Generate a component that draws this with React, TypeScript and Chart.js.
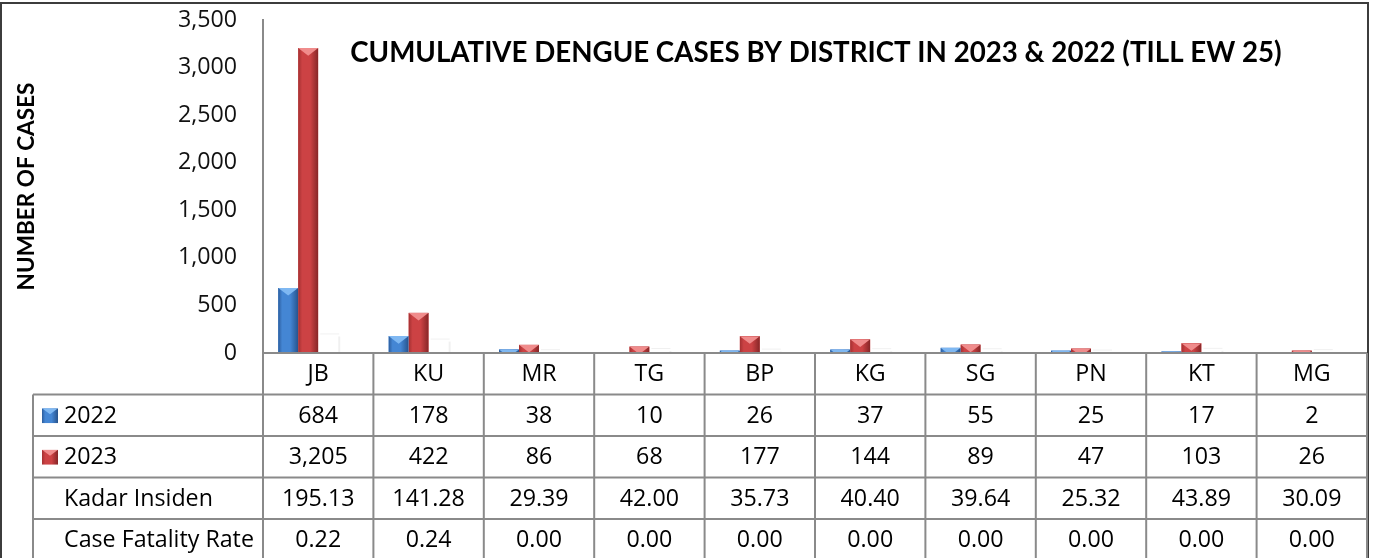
import React, { useEffect, useRef } from 'react';
import { Chart, registerables } from 'chart.js';
Chart.register(...registerables);

const TITLE = 'CUMULATIVE DENGUE CASES BY DISTRICT IN 2023 & 2022 (TILL EW 25)';
const Y_TITLE = 'NUMBER OF CASES';
const categories = ['JB', 'KU', 'MR', 'TG', 'BP', 'KG', 'SG', 'PN', 'KT', 'MG'];
const seriesNames = ['2022', '2023', 'Kadar Insiden', 'Case Fatality Rate'];
const cases2022 = [684, 178, 38, 10, 26, 37, 55, 25, 17, 2];
const cases2023 = [3205, 422, 86, 68, 177, 144, 89, 47, 103, 26];
const kadarInsiden = [195.13, 141.28, 29.39, 42.0, 35.73, 40.4, 39.64, 25.32, 43.89, 30.09];
const caseFatalityRate = [0.22, 0.24, 0.0, 0.0, 0.0, 0.0, 0.0, 0.0, 0.0, 0.0];
const yTicksMax = 3500;
const yTicksStep = 500;

const FONT = '"Open Sans", Lato, sans-serif';
const BOLD_FONT = 'Lato, "Open Sans", sans-serif';
const GRID = '#8a8a8a';

const palettes = [
  { edgeL: '#2b5c9c', mid: '#4486d4', edgeR: '#27538c', top: '#7fb8f2' },
  { edgeL: '#a33031', mid: '#cc4244', edgeR: '#862627', top: '#f08c8c' },
];

function drawFancyBar(ctx: CanvasRenderingContext2D, left: number, top: number, width: number, bottom: number, p: any) {
  const h = bottom - top;
  if (h <= 0) return;
  const g = ctx.createLinearGradient(left, 0, left + width, 0);
  g.addColorStop(0, p.edgeL);
  g.addColorStop(0.2, p.mid);
  g.addColorStop(0.6, p.mid);
  g.addColorStop(1, p.edgeR);
  ctx.save();
  ctx.beginPath();
  ctx.rect(left, top, width, h);
  ctx.clip();
  ctx.fillStyle = g;
  ctx.fillRect(left, top, width, h);
  const depth = width * 0.38;
  ctx.beginPath();
  ctx.moveTo(left, top);
  ctx.lineTo(left + width, top);
  ctx.lineTo(left + width / 2, top + depth);
  ctx.closePath();
  ctx.fillStyle = p.top;
  ctx.fill();
  ctx.restore();
}

export default function App() {
  const ref = useRef<HTMLCanvasElement>(null);
  useEffect(() => {
    document.body.style.margin = '0';
    const canvas = ref.current!;
    const m = canvas.getContext('2d')!;
    const fit = (text: string, weight: string, family: string, target: number) => {
      m.font = `${weight} 100px ${family}`;
      return (100 * target) / m.measureText(text).width;
    };
    const titleSize = fit(TITLE, 'bold', BOLD_FONT, 932);
    const yTitleSize = fit(Y_TITLE, 'bold', BOLD_FONT, 208);
    const tableFont = fit('Case Fatality Rate', 'normal', FONT, 190);

    const tablePlugin = {
      id: 'tablePlugin',
      afterDatasetsDraw(chart: any) {
        const ctx = chart.ctx as CanvasRenderingContext2D;
        [0, 1].forEach((di) => {
          const meta = chart.getDatasetMeta(di);
          meta.data.forEach((el: any) => {
            const { x, y, base, width } = el.getProps(['x', 'y', 'base', 'width'], true);
            drawFancyBar(ctx, x - width / 2, Math.min(y, base), width, Math.max(y, base), palettes[di]);
          });
        });
        const meta2 = chart.getDatasetMeta(2);
        ctx.save();
        meta2.data.forEach((el: any) => {
          const { x, y, base, width } = el.getProps(['x', 'y', 'base', 'width'], true);
          const l = x - width / 2;
          ctx.fillStyle = 'rgba(0,0,0,0.06)';
          ctx.fillRect(l + width, y + 2, 2, base - y - 2);
          ctx.fillRect(l + 2, y - 1, width - 1, 1);
        });
        ctx.restore();
      },
      afterDraw(chart: any) {
        const ctx = chart.ctx as CanvasRenderingContext2D;
        const area = chart.chartArea;
        const xs = chart.scales.x;
        const n = categories.length;
        const colW = (area.right - area.left) / n;
        const tableTop = area.bottom;
        const rowH = 41.5;
        const labelLeft = 33;
        const bottom = 600;
        ctx.save();
        // frame
        ctx.strokeStyle = '#3c3c3c';
        ctx.lineWidth = 2;
        ctx.strokeRect(1, 3, 1367, 700);
        // grid
        ctx.strokeStyle = GRID;
        ctx.lineWidth = 2;
        ctx.beginPath();
        ctx.moveTo(area.left, tableTop);
        ctx.lineTo(area.right, tableTop);
        for (let r = 1; r <= 4; r++) {
          const y = tableTop + r * rowH;
          ctx.moveTo(labelLeft, y);
          ctx.lineTo(area.right, y);
        }
        for (let i = 0; i <= n; i++) {
          const x = area.left + i * colW;
          ctx.moveTo(x, tableTop);
          ctx.lineTo(x, bottom);
        }
        ctx.moveTo(labelLeft, tableTop + rowH);
        ctx.lineTo(labelLeft, bottom);
        ctx.stroke();
        // texts
        ctx.fillStyle = '#000';
        ctx.font = `${tableFont}px ${FONT}`;
        ctx.textBaseline = 'alphabetic';
        ctx.textAlign = 'center';
        const base = (r: number) => tableTop + r * rowH + rowH / 2 + 7.5;
        categories.forEach((c, i) => ctx.fillText(c, xs.getPixelForValue(i), base(0)));
        const rows = [
          cases2022.map((v) => v.toLocaleString('en-US')),
          cases2023.map((v) => v.toLocaleString('en-US')),
          kadarInsiden.map((v) => v.toFixed(2)),
          caseFatalityRate.map((v) => v.toFixed(2)),
        ];
        rows.forEach((vals, r) => {
          vals.forEach((v, i) => ctx.fillText(v, xs.getPixelForValue(i), base(r + 1)));
        });
        ctx.textAlign = 'left';
        seriesNames.forEach((s, r) => ctx.fillText(s, 64, base(r + 1)));
        // legend swatches
        [0, 1].forEach((di) => {
          const cy = tableTop + (di + 1) * rowH + rowH / 2;
          drawFancyBar(ctx, 42, cy - 7, 16, cy + 8, palettes[di]);
        });
        // title
        ctx.font = `bold ${titleSize}px ${BOLD_FONT}`;
        ctx.textAlign = 'center';
        ctx.fillText(TITLE, 816, 62);
        ctx.restore();
      },
    };

    const chart = new Chart(canvas, {
      type: 'bar',
      data: {
        labels: categories,
        datasets: [
          { label: seriesNames[0], data: cases2022, backgroundColor: palettes[0].mid },
          { label: seriesNames[1], data: cases2023, backgroundColor: palettes[1].mid },
          { label: seriesNames[2], data: kadarInsiden, backgroundColor: '#ffffff' },
          { label: seriesNames[3], data: caseFatalityRate, backgroundColor: '#ffffff' },
        ],
      },
      options: {
        responsive: false,
        animation: false,
        layout: { padding: { left: 0, right: 9, top: 20, bottom: 205 } },
        datasets: { bar: { categoryPercentage: 0.725, barPercentage: 1 } },
        plugins: { legend: { display: false }, tooltip: { enabled: false }, title: { display: false } },
        scales: {
          x: { display: false },
          y: {
            min: 0,
            max: yTicksMax,
            ticks: { stepSize: yTicksStep, color: '#111', font: { family: FONT, size: tableFont }, padding: 26 },
            grid: { display: false, drawTicks: false },
            border: { display: true, color: GRID, width: 2 },
            title: {
              display: true,
              text: Y_TITLE,
              color: '#000',
              font: { family: BOLD_FONT, size: yTitleSize, weight: 'bold' },
              padding: { top: 13, bottom: 0 },
            },
            afterFit: (s: any) => {
              s.width = 263;
              s.paddingTop = 0;
              s.paddingBottom = 0;
            },
          },
        },
      },
      plugins: [tablePlugin],
    } as any);
    return () => chart.destroy();
  }, []);
  return (
    <div style={{ width: 1376, height: 558, background: '#fff' }}>
      <canvas ref={ref} width={1376} height={558} style={{ display: 'block' }} />
    </div>
  );
}
